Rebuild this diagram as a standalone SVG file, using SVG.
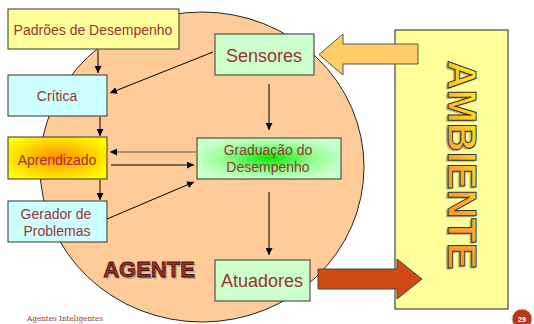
<svg xmlns="http://www.w3.org/2000/svg" width="534" height="324" viewBox="0 0 534 324">
<style>
.box{stroke:#333;stroke-width:1}
.t{font-family:"Liberation Sans",Arial,sans-serif;fill:#993333;text-anchor:middle}
.c{stroke:#000;stroke-width:1;fill:none;marker-end:url(#ah)}
</style>
<defs>
<marker id="ah" viewBox="0 0 10 10" refX="10" refY="5" markerWidth="7" markerHeight="7" markerUnits="userSpaceOnUse" orient="auto">
<path d="M0,0 L10,5 L0,10 z" fill="#000"/>
</marker>
<radialGradient id="gA" cx="0.5" cy="0.5" r="0.6">
<stop offset="0" stop-color="#FF8800"/>
<stop offset="0.55" stop-color="#FFCC00"/>
<stop offset="1" stop-color="#FFFF00"/>
</radialGradient>
<radialGradient id="gG" cx="0.5" cy="0.5" r="0.55">
<stop offset="0" stop-color="#00EE00"/>
<stop offset="0.6" stop-color="#99FF99"/>
<stop offset="1" stop-color="#CCFFCC"/>
</radialGradient>
<linearGradient id="gT" x1="0" y1="0" x2="1" y2="1">
<stop offset="0" stop-color="#FFFF00"/>
<stop offset="0.35" stop-color="#FFCC22"/>
<stop offset="0.6" stop-color="#FFA030"/>
<stop offset="1" stop-color="#FF9020"/>
</linearGradient>
</defs>
<rect width="534" height="324" fill="#fff"/>
<g id="agente">
<ellipse cx="202" cy="167" rx="162" ry="155" fill="#FFCC99" stroke="#222" stroke-width="1"/>
<text x="149" y="277" font-family="'Liberation Sans',Arial,sans-serif" font-weight="bold" font-size="22" text-anchor="middle" fill="#999" opacity="0.7" transform="translate(1.5,1.5)">AGENTE</text>
<text x="149" y="277" font-family="'Liberation Sans',Arial,sans-serif" font-weight="bold" font-size="22" text-anchor="middle" fill="#993322" stroke="#4a1010" stroke-width="0.8">AGENTE</text>
</g>
<g id="ambiente">
<rect x="395" y="30" width="113" height="279" fill="#FFFF99" stroke="#222" stroke-width="1"/>
<g transform="translate(448,165) rotate(90)">
<text x="1.5" y="2" font-family="'Liberation Sans',Arial,sans-serif" font-weight="bold" font-size="40" text-anchor="middle" fill="#888" opacity="0.6">AMBIENTE</text>
<text x="0" y="0" font-family="'Liberation Sans',Arial,sans-serif" font-weight="bold" font-size="40" text-anchor="middle" fill="url(#gT)" stroke="#333" stroke-width="1">AMBIENTE</text>
</g>
</g>
<g id="padroes">
<rect class="box" x="8" y="9" width="171" height="40" fill="#FFFF99"/>
<text class="t" x="93" y="35" font-size="14">Padrões de Desempenho</text>
</g>
<g id="sensores">
<rect class="box" x="215" y="34" width="99" height="41" fill="#CCFFCC"/>
<text class="t" x="264" y="62" font-size="18">Sensores</text>
</g>
<g id="critica">
<rect class="box" x="8" y="75" width="99" height="41" fill="#CCFFFF"/>
<text class="t" x="57" y="101" font-size="14">Crítica</text>
</g>
<g id="aprendizado">
<rect class="box" x="8" y="137" width="99" height="42" fill="url(#gA)"/>
<text class="t" x="57" y="165" font-size="14">Aprendizado</text>
</g>
<g id="gerador">
<rect class="box" x="8" y="201" width="99" height="41" fill="#CCFFFF"/>
<text class="t" x="56" y="219" font-size="14">Gerador de</text>
<text class="t" x="57" y="236" font-size="14">Problemas</text>
</g>
<g id="graduacao">
<rect class="box" x="197" y="138" width="144" height="41" fill="url(#gG)"/>
<text class="t" x="268" y="155" font-size="14">Graduação do</text>
<text class="t" x="268" y="172" font-size="14">Desempenho</text>
</g>
<g id="atuadores">
<rect class="box" x="215" y="260" width="95" height="41" fill="#CCFFCC"/>
<text class="t" x="262" y="287" font-size="18">Atuadores</text>
</g>
<g id="connectors">
<line class="c" x1="98" y1="50" x2="98" y2="73"/>
<line class="c" x1="213" y1="52" x2="110" y2="93"/>
<line class="c" x1="100" y1="117" x2="100" y2="136"/>
<line class="c" x1="196" y1="152" x2="110" y2="152" style="stroke:#555"/>
<line class="c" x1="111" y1="165" x2="194" y2="165"/>
<line class="c" x1="107" y1="219" x2="194" y2="182"/>
<line class="c" x1="100" y1="180" x2="100" y2="200"/>
<line class="c" x1="269" y1="84" x2="269" y2="130"/>
<line class="c" x1="269" y1="192" x2="269" y2="255"/>
<path d="M418,44 L343,44 L343,34 L319,54.5 L343,75 L343,64 L418,64 z" fill="#FFCC66" stroke="#555" stroke-width="1"/>
<path d="M318,269 L397,269 L397,259 L422,279 L397,299 L397,289 L318,289 z" fill="#D04A16" stroke="#444" stroke-width="1"/>
</g>
<text x="27" y="321" font-family="'DejaVu Serif',serif" font-size="8" fill="#993333" textLength="76" lengthAdjust="spacingAndGlyphs">Agentes Inteligentes</text>
<circle cx="522" cy="319" r="10" fill="#B5391E" stroke="#E8C0B0" stroke-width="1"/>
<text x="522" y="322" font-family="'Liberation Sans',Arial,sans-serif" font-weight="bold" font-size="7" fill="#fff" text-anchor="middle">29</text>
</svg>
